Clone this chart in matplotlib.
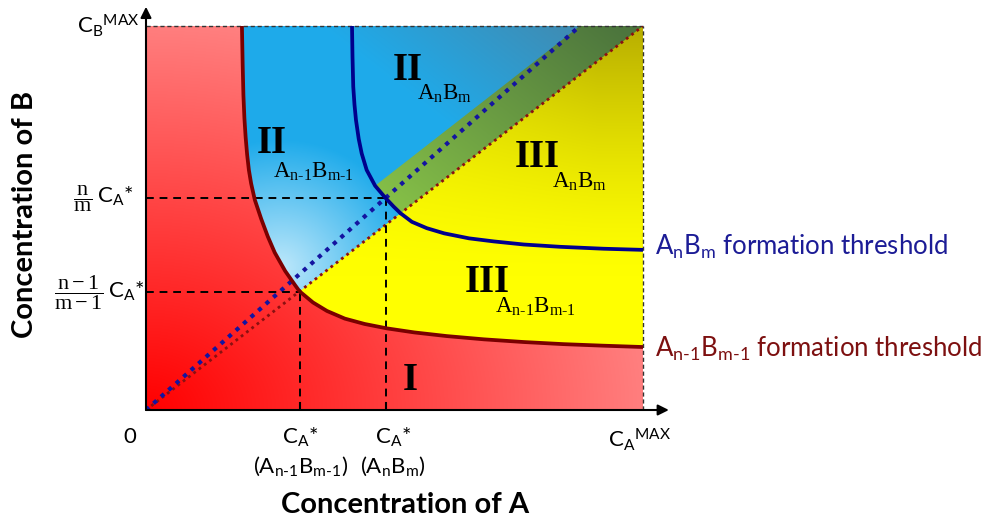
import numpy as np
import matplotlib
matplotlib.use("Agg")
import matplotlib.pyplot as plt
from matplotlib.patches import Polygon

plt.rcParams['font.family'] = ['Lato', 'DejaVu Sans']
plt.rcParams['mathtext.fontset'] = 'custom'
plt.rcParams['mathtext.rm'] = 'Liberation Serif'
plt.rcParams['mathtext.it'] = 'Liberation Serif:italic'
plt.rcParams['mathtext.bf'] = 'Liberation Serif:bold'
plt.rcParams['mathtext.sf'] = 'Lato'

# ---------------- data (axes scaled 0..1) ----------------
# A(n-1)B(m-1) formation threshold (dark red curve)
red_x = [0.193, 0.1945, 0.196, 0.198, 0.2005, 0.2035, 0.207, 0.2115, 0.219, 0.232,
         0.245, 0.259, 0.280, 0.300, 0.309, 0.336, 0.364, 0.400, 0.440, 0.485,
         0.540, 0.605, 0.680, 0.760, 0.840, 0.920, 1.000]
red_y = [1.000, 0.900, 0.820, 0.760, 0.710, 0.665, 0.625, 0.590, 0.547, 0.497,
         0.452, 0.410, 0.362, 0.325, 0.309, 0.280, 0.258, 0.238, 0.224, 0.2125,
         0.202, 0.1925, 0.184, 0.177, 0.1715, 0.1675, 0.164]
# AnBm formation threshold (navy curve)
blue_x = [0.4145, 0.4155, 0.417, 0.4195, 0.4225, 0.428, 0.434, 0.444, 0.461, 0.482,
          0.498, 0.512, 0.535, 0.565, 0.600, 0.650, 0.700, 0.760, 0.833, 0.920, 1.000]
blue_y = [1.000, 0.920, 0.842, 0.795, 0.755, 0.706, 0.668, 0.625, 0.584, 0.552,
          0.530, 0.5125, 0.490, 0.4735, 0.460, 0.447, 0.439, 0.431, 0.425, 0.420, 0.417]
# stoichiometric lines (dotted)
diag_blue_x = [0.0, 0.873]
diag_blue_y = [0.0, 1.0]
diag_red_x = [0.0, 1.0]
diag_red_y = [0.0, 1.0]
# critical concentrations
xA_n1 = 0.310   # C_A*(A_{n-1}B_{m-1})
xA_n = 0.482    # C_A*(A_nB_m)
yB_n1 = 0.307   # (n-1)/(m-1) C_A*
yB_n = 0.552    # n/m C_A*

# ---------------- figure ----------------
W, H = 991, 522
fig = plt.figure(figsize=(W / 100, H / 100), dpi=100)
ax = fig.add_axes([146 / W, 1 - 410 / H, 497 / W, 384 / H])
ax.set_xlim(0, 1)
ax.set_ylim(0, 1)
ax.axis('off')

# gradient colour fields
n = 400
gx, gy = np.meshgrid(np.linspace(0, 1, n), np.linspace(0, 1, n))


def mix(c1, c2, t):
    c1 = np.array(c1)[None, None, :]
    c2 = np.array(c2)[None, None, :]
    t = t[..., None]
    return c1 * (1 - t) + c2 * t


t_red = np.clip(np.hypot(gx, gy) / 1.05, 0, 1)
rgb_red = mix((1.0, 0.0, 0.0), (1.0, 0.52, 0.52), t_red)

w = np.clip(1 - np.hypot((gx - 0.27) * 1.1, (gy - 0.37) * 0.9) / 0.30, 0, 1) * 0.8
rgb_blue = mix((0.12, 0.67, 0.92), (0.90, 0.97, 1.0), w)
d = np.clip((gx + gy - 1.35) / 0.55, 0, 1) * 0.7
rgb_blue = rgb_blue * (1 - d[..., None]) + np.array([0.32, 0.48, 0.58]) * d[..., None]

t_g = np.clip((gx + gy - 1.0) / 0.95, 0, 1)
rgb_green = mix((0.53, 0.76, 0.28), (0.30, 0.46, 0.24), t_g)

t_y = np.clip((gy - 0.35) / 0.65, 0, 1) ** 1.4 * np.clip(gx * 1.1, 0, 1)
rgb_yellow = mix((1.0, 1.0, 0.0), (0.72, 0.68, 0.0), t_y)


def shade(rgb, pts, z):
    im = ax.imshow(rgb, extent=[0, 1, 0, 1], origin='lower', interpolation='bilinear',
                   zorder=z, aspect='auto')
    poly = Polygon(pts, closed=True, transform=ax.transData)
    im.set_clip_path(poly)


red_pts = list(zip(red_x, red_y))
blue_pts = list(zip(blue_x, blue_y))
slope_b = diag_blue_y[1] / diag_blue_x[1]

shade(rgb_red, [(0, 0), (1, 0), (1, 1), (0, 1)], 1)
shade(rgb_blue, red_pts + [(1, 1)], 2)
shade(rgb_green, blue_pts + [(1, 1)], 3)
shade(rgb_yellow, [p for p in red_pts if p[1] <= p[0] + 1e-9] + [(1, 1)], 4)
shade(rgb_blue, [p for p in blue_pts if p[1] >= slope_b * p[0] - 1e-6] + [(diag_blue_x[1], 1)], 5)

# borders
ax.plot([0, 1], [1, 1], color='#333333', lw=1.0, ls=(0, (3, 2)), zorder=8, clip_on=False)
ax.plot([1, 1], [0, 1], color='#333333', lw=1.0, ls=(0, (3, 2)), zorder=8, clip_on=False)

# dotted diagonals
ax.plot(diag_red_x, diag_red_y, color='#8b1010', lw=2.0, ls=(0, (1, 1.4)), zorder=9,
        dash_capstyle='butt')
ax.plot(diag_blue_x, diag_blue_y, color='#1414a0', lw=3.0, ls=(0, (1, 1.4)), zorder=9,
        dash_capstyle='butt')

# dashed guides
dash = (0, (4, 3))
ax.plot([0, xA_n1], [yB_n1, yB_n1], color='black', lw=1.4, ls=dash, zorder=10)
ax.plot([xA_n1, xA_n1], [0, yB_n1], color='black', lw=1.4, ls=dash, zorder=10)
ax.plot([0, xA_n], [yB_n, yB_n], color='black', lw=1.4, ls=dash, zorder=10)
ax.plot([xA_n, xA_n], [0, yB_n], color='black', lw=1.4, ls=dash, zorder=10)

# threshold curves
ax.plot(red_x, red_y, color='#7a0000', lw=2.7, zorder=11, solid_capstyle='butt')
ax.plot(blue_x, blue_y, color='#00008c', lw=2.7, zorder=11, solid_capstyle='butt')

# axes with arrows
ax.annotate('', xy=(1.052, 0), xytext=(0, 0), annotation_clip=False,
            arrowprops=dict(arrowstyle='-|>', color='black', lw=1.5, mutation_scale=16,
                            shrinkA=0, shrinkB=0), zorder=12)
ax.annotate('', xy=(0, 1.05), xytext=(0, 0), annotation_clip=False,
            arrowprops=dict(arrowstyle='-|>', color='black', lw=1.5, mutation_scale=16,
                            shrinkA=0, shrinkB=0), zorder=12)
for xv in (xA_n1, xA_n):
    ax.plot([xv, xv], [0, 0.018], color='black', lw=1.5, zorder=12)

# region labels
rom = dict(fontfamily='Liberation Serif', fontsize=28, fontweight='bold', color='black', zorder=13)
sub = dict(fontsize=16.5, color='black', zorder=13)
ax.text(0.223, 0.669, 'II', **rom)
ax.text(0.2555, 0.604, r'$\mathrm{A_{n‐1}B_{m‐1}}$', **sub)
ax.text(0.497, 0.859, 'II', **rom)
ax.text(0.545, 0.807, r'$\mathrm{A_{n}B_{m}}$', **sub)
ax.text(0.7425, 0.633, 'III', **rom)
ax.text(0.817, 0.578, r'$\mathrm{A_{n}B_{m}}$', **sub)
ax.text(0.642, 0.307, 'III', **rom)
ax.text(0.702, 0.2526, r'$\mathrm{A_{n‐1}B_{m‐1}}$', **sub)
ax.text(0.517, 0.052, 'I', **rom)

# threshold labels
ax.text(1.024, 0.404, r'$\mathsf{A_nB_m}$ formation threshold', fontsize=18.5,
        color='#1c1c96', ha='left', va='baseline')
ax.text(1.024, 0.138, r'$\mathsf{A_{n‐1}B_{m‐1}}$ formation threshold', fontsize=18.5,
        color='#7d1010', ha='left', va='baseline')

# tick labels
tk = dict(fontsize=16, color='black', ha='center', va='center')
ax.text(-0.032, -0.07, '0', **tk)
ax.text(xA_n1, -0.07, r'$\mathsf{C_A}$*', **tk)
ax.text(xA_n1, -0.146, r'($\mathsf{A_{n‐1}B_{m‐1}}$)', **tk)
ax.text(xA_n + 0.015, -0.07, r'$\mathsf{C_A}$*', **tk)
ax.text(xA_n + 0.015, -0.146, r'($\mathsf{A_{n}B_{m}}$)', **tk)
ax.text(0.994, -0.078, r'$\mathsf{C_A{}^{MAX}}$', **tk)
ax.text(-0.012, 1.0, r'$\mathsf{C_B{}^{MAX}}$', fontsize=16, ha='right', va='center')
ax.text(-0.128, yB_n, r'$\dfrac{\mathrm{n}}{\mathrm{m}}$', fontsize=16, ha='center', va='center')
ax.text(-0.0986, yB_n + 0.004, r'$\mathsf{C_A}$*', fontsize=16, ha='left', va='center')
ax.text(-0.1350, yB_n1, r'$\dfrac{\mathrm{n-1}}{\mathrm{m-1}}$', fontsize=16, ha='center', va='center')
ax.text(-0.0765, yB_n1 + 0.002, r'$\mathsf{C_A}$*', fontsize=16, ha='left', va='center')

# axis titles
ax.text(0.521, -0.247, 'Concentration of A', fontsize=21, fontweight='bold',
        ha='center', va='center')
ax.text(-0.2435, 0.508, 'Concentration of B', fontsize=21, fontweight='bold',
        ha='center', va='center', rotation=90)

fig.savefig('out.png', dpi=100)
